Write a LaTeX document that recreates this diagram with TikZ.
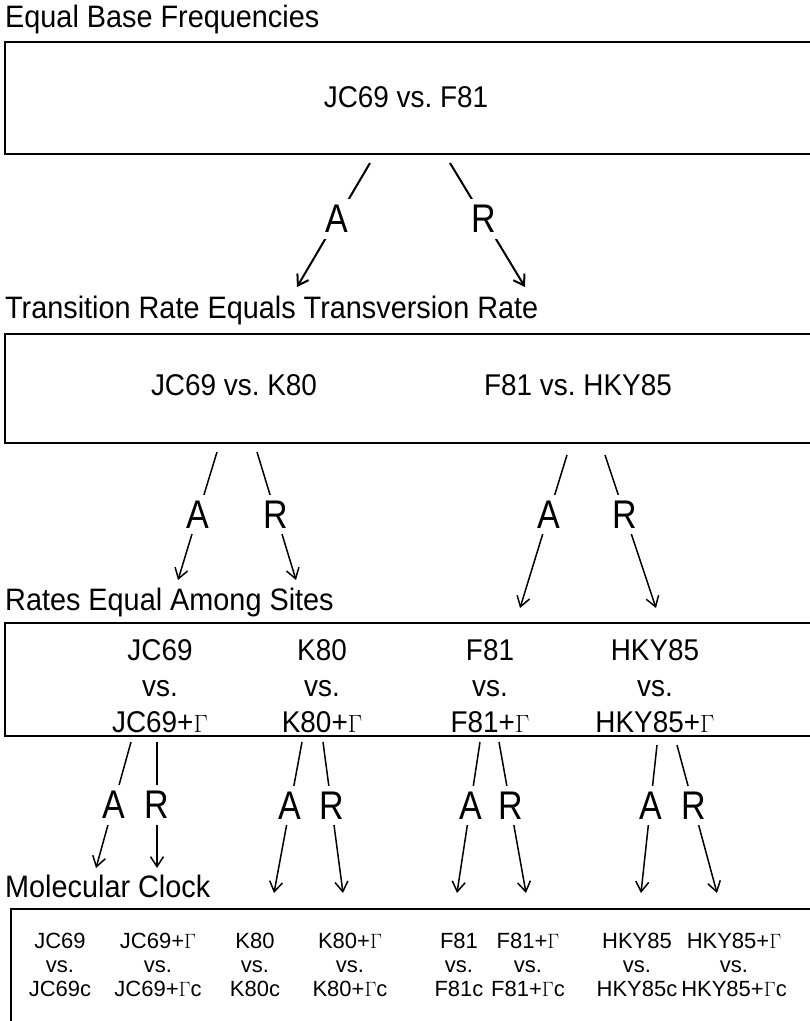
\documentclass[tikz,border=0pt]{standalone}
\usepackage{fontspec}
\setmainfont{Liberation Sans}
\newfontfamily\narrowfont{Liberation Sans}[FakeStretch=0.93]
\newfontfamily\labfont{Liberation Sans}[FakeStretch=0.85]
\usetikzlibrary{arrows.meta}
\frenchspacing
\begin{document}
\begin{tikzpicture}[x=1pt,y=-1pt,
  heading/.style={anchor=base west, inner sep=0pt, font=\narrowfont\fontsize{31}{33}\selectfont},
  panel/.style={draw, line width=2pt, anchor=north west, inner sep=0pt},
  bigtxt/.style={font=\narrowfont\fontsize{30}{36}\selectfont, align=center, inner sep=0pt},
  midtxt/.style={font=\narrowfont\fontsize{30}{36}\selectfont, align=center, inner sep=0pt},
  smalltxt/.style={font=\fontsize{22}{24}\selectfont, align=center, inner sep=0pt},
  lab/.style={fill=white, inner sep=6pt, font=\labfont\fontsize{40}{40}\selectfont},
  arr/.style={line width=1.5pt, -{Straight Barb[length=10pt,width=13pt]}},
  arrthick/.style={arr, line width=2pt}]
\useasboundingbox (0,0) rectangle (810,1021);
\clip (0,0) rectangle (810,1021);

% level 1
\node[heading] (h1) at (5,27) {Equal Base Frequencies};
\node[panel, minimum width=830pt, minimum height=112pt] (b1) at (4,41) {};
\node[bigtxt] (t1) at (406,97) {JC69 vs. F81};

\coordinate (a1s) at (370,163); \coordinate (a1e) at (297,287);
\coordinate (r1s) at (450,163); \coordinate (r1e) at (525,287);
\draw[arrthick] (a1s) -- node[lab, pos=0.45] (la1) {A} (a1e);
\draw[arrthick] (r1s) -- node[lab, pos=0.45] (lr1) {R} (r1e);

% level 2
\node[heading] (h2) at (5,318) {Transition Rate Equals Transversion Rate};
\node[panel, minimum width=830pt, minimum height=109pt] (b2) at (4,333) {};
\node[bigtxt] (t2a) at (234,385) {JC69 vs. K80};
\node[bigtxt] (t2b) at (578,385) {F81 vs. HKY85};

\coordinate (a2s) at (217,452); \coordinate (a2e) at (178,580);
\coordinate (r2s) at (257,452); \coordinate (r2e) at (296,580);
\coordinate (a3s) at (567,455); \coordinate (a3e) at (520,608);
\coordinate (r3s) at (605,455); \coordinate (r3e) at (656,608);
\draw[arr] (a2s) -- node[lab, pos=0.49] (la2) {A} (a2e);
\draw[arr] (r2s) -- node[lab, pos=0.49] (lr2) {R} (r2e);
\draw[arr] (a3s) -- node[lab, pos=0.39] (la3) {A} (a3e);
\draw[arr] (r3s) -- node[lab, pos=0.39] (lr3) {R} (r3e);

% level 3
\node[heading] (h3) at (5,610) {Rates Equal Among Sites};
\node[panel, minimum width=830pt, minimum height=113pt] (b3) at (4,622) {};
\node[midtxt] (t3a) at (160,686) {JC69\\vs.\\JC69+$\Gamma$};
\node[midtxt] (t3b) at (322,686) {K80\\vs.\\K80+$\Gamma$};
\node[midtxt] (t3c) at (490,686) {F81\\vs.\\F81+$\Gamma$};
\node[midtxt] (t3d) at (655,686) {HKY85\\vs.\\HKY85+$\Gamma$};

\coordinate (a4s) at (131,742); \coordinate (a4e) at (96,868);
\coordinate (r4s) at (157,742); \coordinate (r4e) at (157,868);
\coordinate (a5s) at (302,742); \coordinate (a5e) at (274,893);
\coordinate (r5s) at (323,742); \coordinate (r5e) at (343,893);
\coordinate (a6s) at (480,742); \coordinate (a6e) at (457,893);
\coordinate (r6s) at (499,742); \coordinate (r6e) at (526,893);
\coordinate (a7s) at (657,745); \coordinate (a7e) at (641,893);
\coordinate (r7s) at (677,745); \coordinate (r7e) at (717,893);
\draw[arr] (a4s) -- node[lab, pos=0.5] (la4) {A} (a4e);
\draw[arr] (r4s) -- node[lab, pos=0.5] (lr4) {R} (r4e);
\draw[arr] (a5s) -- node[lab, pos=0.42] (la5) {A} (a5e);
\draw[arr] (r5s) -- node[lab, pos=0.42] (lr5) {R} (r5e);
\draw[arr] (a6s) -- node[lab, pos=0.42] (la6) {A} (a6e);
\draw[arr] (r6s) -- node[lab, pos=0.42] (lr6) {R} (r6e);
\draw[arr] (a7s) -- node[lab, pos=0.41] (la7) {A} (a7e);
\draw[arr] (r7s) -- node[lab, pos=0.41] (lr7) {R} (r7e);

% level 4
\node[heading] (h4) at (5,897) {Molecular Clock};
\node[panel, minimum width=830pt, minimum height=113pt] (b4) at (10,908) {};
\node[smalltxt] (t4a) at (60,965) {JC69\\vs.\\JC69c};
\node[smalltxt] (t4b) at (158,965) {JC69+$\Gamma$\\vs.\\JC69+$\Gamma$c};
\node[smalltxt] (t4c) at (255,965) {K80\\vs.\\K80c};
\node[smalltxt] (t4d) at (350,965) {K80+$\Gamma$\\vs.\\K80+$\Gamma$c};
\node[smalltxt] (t4e) at (459,965) {F81\\vs.\\F81c};
\node[smalltxt] (t4f) at (528,965) {F81+$\Gamma$\\vs.\\F81+$\Gamma$c};
\node[smalltxt] (t4g) at (637,965) {HKY85\\vs.\\HKY85c};
\node[smalltxt] (t4h) at (734,965) {HKY85+$\Gamma$\\vs.\\HKY85+$\Gamma$c};
\end{tikzpicture}
\end{document}
